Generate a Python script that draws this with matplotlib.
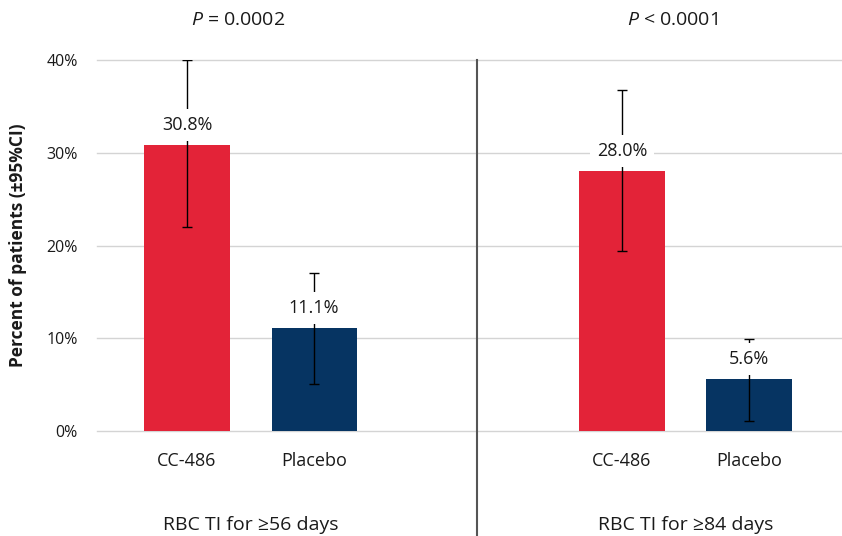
# ======================================================
# RBC transfusion independence - CC-486 vs Placebo
# ======================================================

import numpy as np
import matplotlib.pyplot as plt
import matplotlib.transforms as mtransforms

# ======================================================
# Data
# ======================================================

arms = ["CC-486", "Placebo", "CC-486", "Placebo"]
rates = [30.8, 11.1, 28.0, 5.6]
ci_low = [22.0, 5.1, 19.4, 1.1]
ci_high = [40.0, 17.0, 36.8, 9.9]
endpoints = ["RBC TI for ≥56 days", "RBC TI for ≥84 days"]
p_values = ["= 0.0002", "< 0.0001"]
y_ticks = [0, 10, 20, 30, 40]

# ======================================================
# Style
# ======================================================

plt.rcParams["font.family"] = ["Open Sans", "DejaVu Sans"]
plt.rcParams["mathtext.fontset"] = "custom"
plt.rcParams["mathtext.it"] = "Open Sans:italic"
plt.rcParams["mathtext.rm"] = "Open Sans"

red = "#E32338"
navy = "#063462"
colors = [red, navy, red, navy]
text_color = "#1a1a1a"

x = np.array([0, 1, 3.425, 4.425])
group_x = [(x[0] + x[1]) / 2, (x[2] + x[3]) / 2]
divider_x = 2.283

# ======================================================
# Figure
# ======================================================

fig = plt.figure(figsize=(8.42, 5.36), dpi=100)
ax = fig.add_axes([97 / 842, 105 / 536, 745 / 842, 371 / 536])

heights = np.array(rates)
yerr = np.array([heights - np.array(ci_low), np.array(ci_high) - heights])

ax.bar(x, heights, width=0.67, color=colors, zorder=2)
ax.errorbar(x, heights, yerr=yerr, fmt="none", ecolor="black",
            elinewidth=1, capsize=3.5, capthick=1, zorder=3)

# value labels with white boxes over the error bars
for xi, v in zip(x, rates):
    ax.annotate(f"{v:.1f}%", xy=(xi, v), xytext=(0, 14.5),
                textcoords="offset points", ha="center", va="center",
                fontsize=13, color=text_color, zorder=4,
                bbox=dict(boxstyle="square,pad=0.4", fc="white", ec="none"))

ax.set_xlim(-0.709, 5.157)
ax.set_ylim(0, 40)
ax.set_yticks(y_ticks)
ax.set_yticklabels([f"{t}%" for t in y_ticks])
ax.set_xticks(x)
ax.set_xticklabels(arms)
ax.tick_params(axis="y", length=0, pad=14, labelsize=11.5, labelcolor=text_color)
ax.tick_params(axis="x", length=0, pad=15, labelsize=13, labelcolor=text_color)

ax.yaxis.grid(True, color="#d4d4d4", linewidth=1)
ax.set_axisbelow(True)
for s in ax.spines.values():
    s.set_visible(False)
for gl in ax.get_ygridlines():
    gl.set_clip_on(False)

# divider between the two endpoints
ax.axvline(divider_x, ymin=-0.3, ymax=1.0, color="#555555", linewidth=1.5,
           clip_on=False, zorder=1)

trans = mtransforms.blended_transform_factory(ax.transData, ax.transAxes)
for gx, name, p in zip(group_x, endpoints, p_values):
    ax.text(gx, -0.253, name, transform=trans, ha="center", va="center",
            fontsize=14, color=text_color)
    ax.text(gx - 0.1, 1.108, r"$\it{P}$ " + p, transform=trans,
            ha="center", va="center", fontsize=14, color=text_color)

fig.text(18 / 842, 1 - 245 / 536, "Percent of patients (±95%CI)",
         rotation=90, ha="center", va="center", fontsize=12.5,
         fontweight="bold", color=text_color)

fig.savefig("out.png", dpi=100)
